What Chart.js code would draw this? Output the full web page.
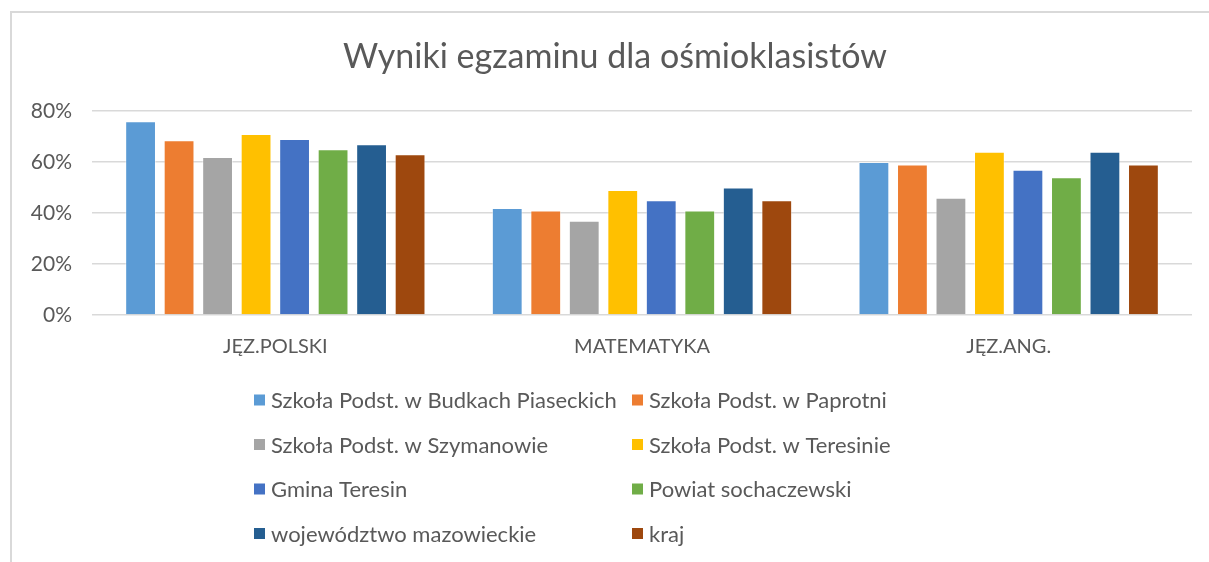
<!DOCTYPE html>
<html>
<head>
<meta charset="utf-8">
<script src="https://cdn.jsdelivr.net/npm/chart.js@4.4.0/dist/chart.umd.min.js"></script>
<style>
  html, body { margin: 0; padding: 0; background: #fff; }
  #wrap { position: relative; width: 1209px; height: 562px; overflow: hidden; }
  #frame { position: absolute; left: 10px; top: 11px; width: 1300px; height: 700px;
           border-left: 2px solid #d9d9d9; border-top: 2px solid #d9d9d9; }
  canvas { position: absolute; left: 0; top: 0; }
</style>
</head>
<body>
<div id="wrap">
  <div id="frame"></div>
  <canvas id="c" width="1209" height="562"></canvas>
</div>
<script>
const chartTitle = 'Wyniki egzaminu dla ośmioklasistów';
const categories = ['JĘZ.POLSKI', 'MATEMATYKA', 'JĘZ.ANG.'];
const seriesNames = [
  'Szkoła Podst. w Budkach Piaseckich',
  'Szkoła Podst. w Paprotni',
  'Szkoła Podst. w Szymanowie',
  'Szkoła Podst. w Teresinie',
  'Gmina Teresin',
  'Powiat sochaczewski',
  'województwo mazowieckie',
  'kraj'
];
const budki = [76, 42, 60];
const paprotnia = [68.5, 41, 59];
const szymanow = [62, 37, 46];
const teresin = [71, 49, 64];
const gmina = [69, 45, 57];
const powiat = [65, 41, 54];
const wojewodztwo = [67, 50, 64];
const kraj = [63, 45, 59];
const yTicks = [0, 20, 40, 60, 80];
const colors = ['#5B9BD5', '#ED7D31', '#A5A5A5', '#FFC000', '#4472C4', '#70AD47', '#255E91', '#9E480E'];

const seriesValues = [budki, paprotnia, szymanow, teresin, gmina, powiat, wojewodztwo, kraj];
const FONT = "Lato, 'Open Sans', sans-serif";
const TEXT = '#595959';

const titleAndLegend = {
  id: 'titleAndLegend',
  afterDraw(chart) {
    const ctx = chart.ctx;
    ctx.save();
    // title
    ctx.font = '34px ' + FONT;
    ctx.fillStyle = TEXT;
    ctx.textAlign = 'center';
    ctx.textBaseline = 'middle';
    ctx.fillText(chartTitle, 615, 57);
    // legend in two columns
    ctx.font = '22px ' + FONT;
    ctx.textAlign = 'left';
    const colX = [254, 632];
    const rowY0 = 400, rowStep = 44.5, box = 11;
    chart.data.datasets.forEach((ds, i) => {
      const x = colX[i % 2];
      const y = rowY0 + Math.floor(i / 2) * rowStep;
      ctx.fillStyle = ds.backgroundColor;
      ctx.fillRect(x, y - box / 2, box, box);
      ctx.fillStyle = TEXT;
      ctx.fillText(ds.label, x + 17, y + 1);
    });
    ctx.restore();
  }
};

new Chart(document.getElementById('c'), {
  type: 'bar',
  data: {
    labels: categories,
    datasets: seriesNames.map((name, i) => ({
      label: name,
      data: seriesValues[i],
      backgroundColor: colors[i],
      borderColor: 'rgba(255,255,255,0.45)',
      borderWidth: 1,
      categoryPercentage: 0.84,
      barPercentage: 0.8
    }))
  },
  options: {
    responsive: false,
    animation: false,
    layout: { padding: { left: 0, right: 17, top: 111, bottom: 187 } },
    plugins: {
      legend: { display: false },
      tooltip: { enabled: false },
      title: { display: false }
    },
    scales: {
      x: {
        grid: { display: false, drawTicks: false },
        border: { display: false },
        ticks: { color: TEXT, font: { family: FONT, size: 20 }, padding: 20 },
        afterFit(scale) { scale.height = 60; }
      },
      y: {
        min: 0, max: 80,
        afterBuildTicks(scale) { scale.ticks = yTicks.map(v => ({ value: v })); },
        grid: { color: '#d9d9d9', lineWidth: 1.5, drawTicks: false },
        border: { display: false },
        ticks: { color: TEXT, font: { family: FONT, size: 21 }, padding: 20, callback: v => v + '%' },
        afterFit(scale) { scale.width = 92; }
      }
    }
  },
  plugins: [titleAndLegend]
});
</script>
</body>
</html>
